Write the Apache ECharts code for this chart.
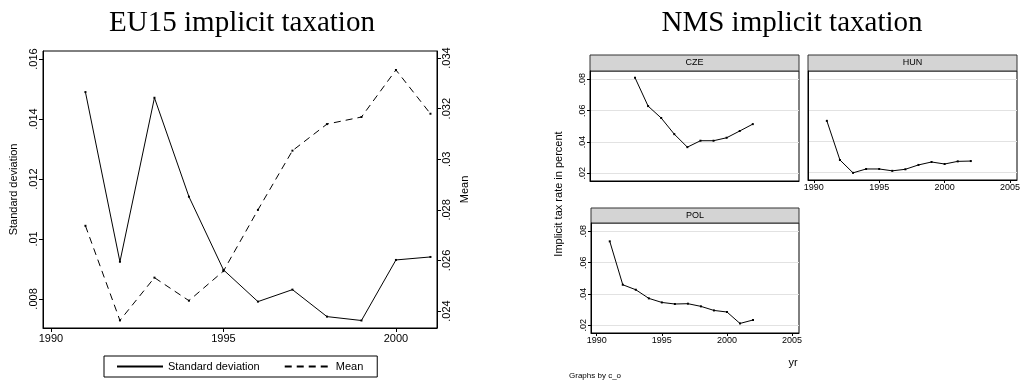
<!DOCTYPE html>
<html>
<head>
<meta charset="utf-8">
<script src="https://cdn.jsdelivr.net/npm/echarts@6/dist/echarts.min.js"></script>
<style>
  html, body { margin: 0; padding: 0; background: #fff; }
  #chart { width: 1025px; height: 387px; }
</style>
</head>
<body>
<div id="chart"></div>
<script>
  // EU15 panel
  const eu15Years = [1991, 1992, 1993, 1994, 1995, 1996, 1997, 1998, 1999, 2000, 2001]
  const eu15Sd = [0.0149, 0.00924, 0.01471, 0.01141, 0.00897, 0.00791, 0.00831, 0.00741, 0.00728, 0.0093, 0.0094]
  const eu15Mean = [0.02737, 0.02363, 0.02532, 0.02441, 0.02558, 0.0280, 0.03034, 0.03139, 0.03167, 0.03353, 0.0318]
  const sdTicks = [0.008, 0.010, 0.012, 0.014, 0.016]
  const meanTicks = [0.024, 0.026, 0.028, 0.030, 0.032, 0.034]
  const eu15XTicks = [1990, 1995, 2000]

  // NMS panels
  const czeYears = [1993, 1994, 1995, 1996, 1997, 1998, 1999, 2000, 2001, 2002]
  const czeRate = [0.081, 0.0629, 0.0553, 0.045, 0.0367, 0.0408, 0.0408, 0.0427, 0.047, 0.0514]
  const hunYears = [1991, 1992, 1993, 1994, 1995, 1996, 1997, 1998, 1999, 2000, 2001, 2002]
  const hunRate = [0.0532, 0.028, 0.0197, 0.0222, 0.0222, 0.021, 0.022, 0.0248, 0.0267, 0.0254, 0.0271, 0.0273]
  const polYears = [1991, 1992, 1993, 1994, 1995, 1996, 1997, 1998, 1999, 2000, 2001, 2002]
  const polRate = [0.0736, 0.0459, 0.0427, 0.0372, 0.0346, 0.0336, 0.0338, 0.0321, 0.0295, 0.0285, 0.0212, 0.0234]
  const nmsYTicks = [0.02, 0.04, 0.06, 0.08]
  const nmsXTicks = [1990, 1995, 2000, 2005]

  const pair = (xs, ys) => xs.map((x, i) => [x, ys[i]])
  // stata style: .016 instead of 0.016
  const fmt = v => String(+v.toFixed(4)).replace(/^0\./, '.')
  const yearFmt = v => String(v)

  const font = 'Liberation Sans, Arial, sans-serif'
  const serif = 'Liberation Serif, Times New Roman, serif'

  const panelX = (idx, showLabel) => ({
    type: 'value',
    gridIndex: idx,
    min: 1989.56,
    max: 2005.53,
    axisLine: { show: true, lineStyle: { color: '#000', width: 1 } },
    axisTick: { show: showLabel, length: 3, customValues: nmsXTicks, lineStyle: { color: '#000' } },
    axisLabel: { show: showLabel, customValues: nmsXTicks, color: '#000', fontFamily: font, fontSize: 9, margin: 3, formatter: yearFmt },
    splitLine: { show: false },
  })
  const panelY = (idx, showLabel) => ({
    type: 'value',
    gridIndex: idx,
    min: 0.0151,
    max: 0.0853,
    axisLine: { show: true, lineStyle: { color: '#000', width: 1 } },
    axisTick: { show: showLabel, length: 3, customValues: nmsYTicks, lineStyle: { color: '#000' } },
    axisLabel: { show: showLabel, customValues: nmsYTicks, rotate: 90, color: '#000', fontFamily: font, fontSize: 9, margin: 3, formatter: fmt },
    splitLine: { show: true, lineStyle: { color: '#e2e2e2', width: 1 } },
  })
  // grid idx -> xAxis idx, yAxis idx + 1 (grid 0 has two y axes)
  const panelSeries = (idx, xs, ys) => ({
    type: 'line',
    xAxisIndex: idx,
    yAxisIndex: idx + 1,
    data: pair(xs, ys),
    symbol: 'rect',
    symbolSize: 2,
    itemStyle: { color: '#000' },
    lineStyle: { color: '#000', width: 1 },
  })

  const header = (x, y, w, h, label) => ([
    {
      type: 'rect',
      shape: { x: x, y: y, width: w, height: h },
      style: { fill: '#d4d4d4', stroke: '#333', lineWidth: 1 },
    },
    {
      type: 'text',
      x: x + w / 2,
      y: y + h / 2,
      style: { text: label, fill: '#000', font: '9px ' + font, align: 'center', verticalAlign: 'middle' },
    },
  ])

  const myChart = echarts.init(document.getElementById('chart'))

  const option = {
    animation: false,
    title: [
      { text: 'EU15 implicit taxation', left: 237, top: 4, textAlign: 'center', textStyle: { fontFamily: serif, fontSize: 29, fontWeight: 'normal', color: '#000' } },
      { text: 'NMS implicit taxation', left: 787, top: 4, textAlign: 'center', textStyle: { fontFamily: serif, fontSize: 29, fontWeight: 'normal', color: '#000' } },
    ],
    legend: {
      data: ['Standard deviation', 'Mean'],
      left: 104,
      top: 356,
      padding: [5, 14, 5, 12],
      itemGap: 24,
      itemWidth: 46,
      itemHeight: 12,
      borderColor: '#000',
      borderWidth: 1,
      itemStyle: { color: 'transparent', borderWidth: 0 },
      textStyle: { color: '#000', fontFamily: font, fontSize: 11 },
    },
    grid: [
      { left: 43, top: 51, width: 394, height: 277, show: true, borderColor: '#000', borderWidth: 1 },
      { left: 590, top: 71, width: 209, height: 110, show: true, borderColor: '#000', borderWidth: 1 },
      { left: 808, top: 71, width: 209, height: 109, show: true, borderColor: '#000', borderWidth: 1 },
      { left: 591, top: 223, width: 208, height: 110, show: true, borderColor: '#000', borderWidth: 1 },
    ],
    xAxis: [
      {
        type: 'value',
        gridIndex: 0,
        min: 1989.77,
        max: 2001.19,
        axisLine: { show: true, lineStyle: { color: '#000' } },
        axisTick: { length: 4, customValues: eu15XTicks, lineStyle: { color: '#000' } },
        axisLabel: { customValues: eu15XTicks, color: '#000', fontFamily: font, fontSize: 11, margin: 5, formatter: yearFmt },
        splitLine: { show: false },
      },
      panelX(1, false),
      panelX(2, true),
      panelX(3, true),
    ],
    yAxis: [
      {
        type: 'value',
        gridIndex: 0,
        position: 'left',
        min: 0.00703,
        max: 0.01627,
        name: 'Standard deviation',
        nameLocation: 'middle',
        nameRotate: 90,
        nameGap: 24,
        nameTextStyle: { color: '#000', fontFamily: font, fontSize: 11 },
        axisLine: { show: true, lineStyle: { color: '#000' } },
        axisTick: { length: 4, customValues: sdTicks, lineStyle: { color: '#000' } },
        axisLabel: { customValues: sdTicks, rotate: 90, color: '#000', fontFamily: font, fontSize: 11, margin: 4, formatter: fmt },
        splitLine: { show: false },
      },
      {
        type: 'value',
        gridIndex: 0,
        position: 'right',
        min: 0.02333,
        max: 0.03428,
        name: 'Mean',
        nameLocation: 'middle',
        nameRotate: 90,
        nameGap: 22,
        nameTextStyle: { color: '#000', fontFamily: font, fontSize: 11 },
        axisLine: { show: true, lineStyle: { color: '#000' } },
        axisTick: { length: 4, customValues: meanTicks, lineStyle: { color: '#000' } },
        axisLabel: { customValues: meanTicks, rotate: 90, color: '#000', fontFamily: font, fontSize: 11, margin: 4, formatter: fmt },
        splitLine: { show: false },
      },
      panelY(1, true),
      panelY(2, false),
      panelY(3, true),
    ],
    series: [
      {
        name: 'Standard deviation',
        type: 'line',
        xAxisIndex: 0,
        yAxisIndex: 0,
        data: pair(eu15Years, eu15Sd),
        symbol: 'rect',
        symbolSize: 2,
        itemStyle: { color: '#000' },
        lineStyle: { color: '#000', width: 1 },
      },
      {
        name: 'Mean',
        type: 'line',
        xAxisIndex: 0,
        yAxisIndex: 1,
        data: pair(eu15Years, eu15Mean),
        symbol: 'rect',
        symbolSize: 2,
        itemStyle: { color: '#000' },
        lineStyle: { color: '#000', width: 1, type: [7, 5] },
      },
      panelSeries(1, czeYears, czeRate),
      panelSeries(2, hunYears, hunRate),
      panelSeries(3, polYears, polRate),
    ],
    graphic: [
      ...header(590, 55, 209, 16, 'CZE'),
      ...header(808, 55, 209, 16, 'HUN'),
      ...header(591, 208, 208, 15, 'POL'),
      {
        type: 'text',
        x: 559,
        y: 194,
        rotation: Math.PI / 2,
        style: { text: 'Implicit tax rate in percent', fill: '#000', font: '11px ' + font, align: 'center', verticalAlign: 'middle' },
      },
      {
        type: 'text',
        x: 793,
        y: 363,
        style: { text: 'yr', fill: '#000', font: '11px ' + font, align: 'center', verticalAlign: 'middle' },
      },
      {
        type: 'text',
        x: 569,
        y: 376,
        style: { text: 'Graphs by c_o', fill: '#000', font: '8px ' + font, align: 'left', verticalAlign: 'middle' },
      },
    ],
  }

  myChart.setOption(option)
</script>
</body>
</html>
